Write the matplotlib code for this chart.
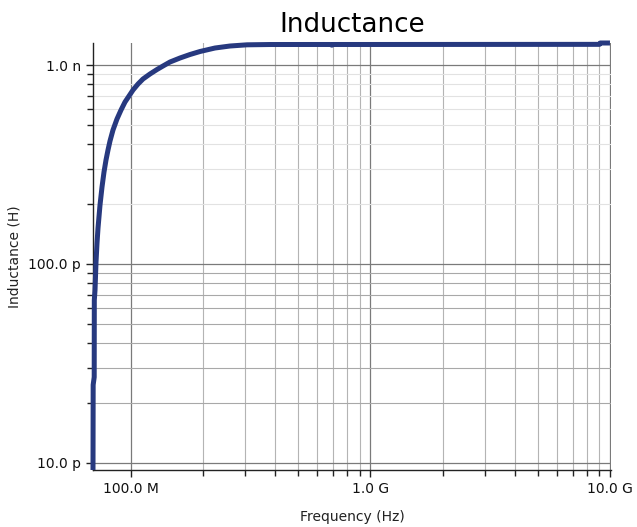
import matplotlib
matplotlib.use("Agg")
import matplotlib.pyplot as plt
from matplotlib.ticker import FixedLocator, FixedFormatter, NullFormatter

# Data (frequency in Hz, inductance in H)
freq_hz = [69.39e6, 69.5e6, 70.2e6, 70.27e6, 70.75e6, 71.43e6, 72.12e6, 72.82e6,
           74.23e6, 75.67e6, 77.14e6, 78.63e6, 80.16e6, 81.71e6, 84.10e6, 87.39e6,
           90.84e6, 94.40e6, 98.10e6, 101.94e6, 106.96e6, 112.2e6, 120.0e6, 128.4e6,
           136.0e6, 145.5e6, 160.2e6, 176.3e6, 194.1e6, 224.2e6, 259.0e6, 305.1e6,
           380.5e6, 600e6, 680e6, 690e6, 700e6, 1.0e9, 3.0e9, 9.05e9, 9.1e9, 10.0e9]
induct_h = [9.22e-12, 24.7e-12, 27.0e-12, 65.9e-12, 74.0e-12, 102.3e-12, 127.5e-12, 151.7e-12,
            197.9e-12, 243.7e-12, 290.0e-12, 333.1e-12, 374.0e-12, 415.0e-12, 471.4e-12, 535.4e-12,
            594.0e-12, 651.7e-12, 698.4e-12, 748.7e-12, 802.6e-12, 850.4e-12, 901.1e-12, 949.3e-12,
            988.5e-12, 1.0353e-9, 1.0844e-9, 1.1291e-9, 1.1690e-9, 1.2173e-9, 1.2458e-9, 1.2632e-9,
            1.2676e-9, 1.268e-9, 1.268e-9, 1.258e-9, 1.268e-9, 1.268e-9, 1.269e-9, 1.270e-9,
            1.290e-9, 1.290e-9]

x_ticks = [1e8, 1e9, 1e10]
x_tick_labels = ["100.0 M", "1.0 G", "10.0 G"]
x_minor = [k * 1e8 for k in range(2, 10)] + [k * 1e9 for k in range(2, 10)]
y_ticks = [1e-11, 1e-10, 1e-9]
y_tick_labels = ["10.0 p", "100.0 p", "1.0 n"]
y_minor_low = [k * 1e-11 for k in range(2, 10)]
y_minor_high = [k * 1e-10 for k in range(2, 10)]

fig = plt.figure(figsize=(6.37, 5.27), dpi=100)
ax = fig.add_axes([93 / 637, 1 - 470 / 527, (611 - 93) / 637, (470 - 43) / 527])

ax.set_xscale("log")
ax.set_yscale("log")

ax.plot(freq_hz, induct_h, color="#27397f", lw=3.6, solid_capstyle="butt",
        solid_joinstyle="round", zorder=3, clip_on=False)

ax.set_xlim(69.39e6, 1.01e10)
ax.set_ylim(9.22e-12, 1.29e-9)

ax.xaxis.set_major_locator(FixedLocator(x_ticks))
ax.xaxis.set_major_formatter(FixedFormatter(x_tick_labels))
ax.yaxis.set_major_locator(FixedLocator(y_ticks))
ax.yaxis.set_major_formatter(FixedFormatter(y_tick_labels))
ax.xaxis.set_minor_locator(FixedLocator(x_minor))
ax.yaxis.set_minor_locator(FixedLocator(y_minor_low + y_minor_high))
ax.xaxis.set_minor_formatter(NullFormatter())
ax.yaxis.set_minor_formatter(NullFormatter())

ax.grid(True, which="major", color="#7a7a7a", lw=0.9)
ax.grid(True, which="minor", axis="x", color="#b4b4b4", lw=0.8)
for v in y_minor_high:
    ax.axhline(v, color="#e2e2e2", lw=0.8, zorder=1)
for v in y_minor_low:
    ax.axhline(v, color="#a8a8a8", lw=0.8, zorder=1)
ax.set_axisbelow(True)

for s in ["top", "right"]:
    ax.spines[s].set_visible(False)
for s in ["left", "bottom"]:
    ax.spines[s].set_color("#222222")
    ax.spines[s].set_linewidth(1.0)

ax.tick_params(which="major", length=5, width=1, colors="#222222", labelsize=10,
               labelcolor="#111111")
ax.tick_params(which="minor", length=4, width=1, colors="#222222")

ax.set_title("Inductance", fontsize=18.8, pad=8)
ax.set_xlabel("Frequency (Hz)", fontsize=10, labelpad=10, color="#222222")
ax.set_ylabel("Inductance (H)", fontsize=10, labelpad=5, color="#222222")

fig.savefig("out.png", dpi=100)
